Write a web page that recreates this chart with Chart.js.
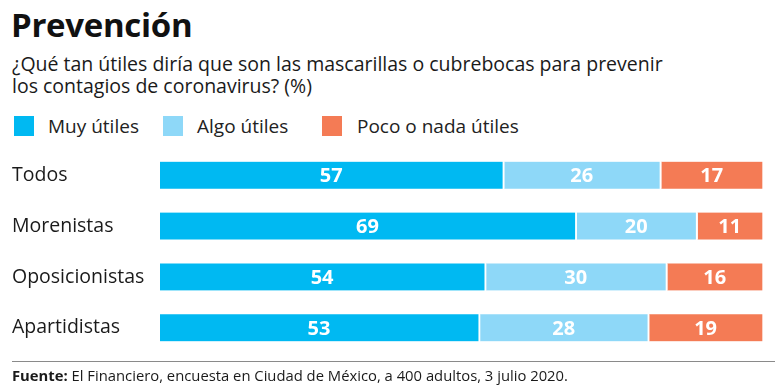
<!DOCTYPE html>
<html>
<head>
<meta charset="utf-8">
<script src="https://cdn.jsdelivr.net/npm/chart.js@4"></script>
<style>
  html, body { margin: 0; padding: 0; background: #fff; }
  body { width: 775px; height: 392px; position: relative; overflow: hidden; font-family: "Open Sans", sans-serif; color: #1a1a1a; }
  #title { position: absolute; left: 11px; top: 2px; font-size: 33px; font-weight: 700; letter-spacing: -0.3px; color: #111; white-space: nowrap; }
  #sub { position: absolute; left: 12px; top: 53px; font-size: 19.5px; line-height: 22px; color: #1a1a1a; width: 740px; white-space: nowrap; }
  .leg { position: absolute; top: 116px; height: 20px; }
  .sw { position: absolute; top: 0; width: 20px; height: 20px; }
  .lt { position: absolute; top: -3px; font-size: 19px; white-space: nowrap; color: #222; }
  #wrap { position: absolute; left: 0; top: 138px; width: 775px; height: 227px; }
  #rule { position: absolute; left: 12px; right: 0; top: 361px; height: 0; border-top: 1.5px solid #8a8a8a; }
  #foot { position: absolute; left: 12px; top: 365px; font-size: 14.8px; white-space: nowrap; color: #1a1a1a; }
</style>
</head>
<body>
<div id="title">Prevención</div>
<div id="sub">¿Qué tan útiles diría que son las mascarillas o cubrebocas para prevenir<br>los contagios de coronavirus? (%)</div>
<div id="legend"></div>
<div id="wrap"><canvas id="c"></canvas></div>
<div id="rule"></div>
<div id="foot"><b>Fuente:</b> El Financiero, encuesta en Ciudad de México, a 400 adultos, 3 julio 2020.</div>
<script>
const categories = ["Todos", "Morenistas", "Oposicionistas", "Apartidistas"];
const seriesNames = ["Muy útiles", "Algo útiles", "Poco o nada útiles"];
const muyUtiles = [57, 69, 54, 53];
const algoUtiles = [26, 20, 30, 28];
const pocoNada = [17, 11, 16, 19];
const colors = ["#00b9f2", "#8ed8f8", "#f47b55"];

// HTML legend
const legendPos = [[14, 48], [163, 197], [322, 357]];
const legendEl = document.getElementById("legend");
seriesNames.forEach((n, i) => {
  const d = document.createElement("div");
  d.className = "leg";
  d.style.left = "0px";
  d.innerHTML = `<div class="sw" style="left:${legendPos[i][0]}px;background:${colors[i]}"></div><div class="lt" style="left:${legendPos[i][1]}px">${n}</div>`;
  legendEl.appendChild(d);
});

const valueLabels = {
  id: "valueLabels",
  afterDatasetsDraw(chart) {
    const ctx = chart.ctx;
    ctx.save();
    ctx.fillStyle = "#ffffff";
    ctx.font = "bold 20px 'Open Sans', sans-serif";
    ctx.textAlign = "center";
    ctx.textBaseline = "middle";
    chart.data.datasets.forEach((ds, di) => {
      const meta = chart.getDatasetMeta(di);
      meta.data.forEach((bar, i) => {
        const p = bar.getProps(["x", "y", "base"], true);
        const cx = (p.x + p.base) / 2 - 1;
        ctx.fillText(String(ds.data[i]), cx, p.y + 1);
      });
    });
    ctx.restore();
  }
};

new Chart(document.getElementById("c"), {
  type: "bar",
  data: {
    labels: categories,
    datasets: [
      { label: seriesNames[0], data: muyUtiles, backgroundColor: colors[0] },
      { label: seriesNames[1], data: algoUtiles, backgroundColor: colors[1] },
      { label: seriesNames[2], data: pocoNada, backgroundColor: colors[2] }
    ].map(d => Object.assign(d, {
      barThickness: 27,
      borderColor: "#ffffff",
      borderWidth: { right: 2, left: 0, top: 0, bottom: 0 },
      borderSkipped: false
    }))
  },
  options: {
    indexAxis: "y",
    responsive: true,
    maintainAspectRatio: false,
    animation: false,
    layout: { padding: { left: 12, right: 11, top: 0, bottom: 0 } },
    plugins: { legend: { display: false }, tooltip: { enabled: false }, title: { display: false } },
    scales: {
      x: { stacked: true, min: 0, max: 100, display: false },
      y: {
        stacked: true,
        grid: { display: false, drawTicks: false },
        border: { display: false },
        ticks: {
          crossAlign: "far",
          padding: 0,
          color: "#1a1a1a",
          font: { family: "'Open Sans', sans-serif", size: 19.5 }
        },
        afterFit(scale) { scale.width = 148; }
      }
    }
  },
  plugins: [valueLabels]
});
</script>
</body>
</html>
